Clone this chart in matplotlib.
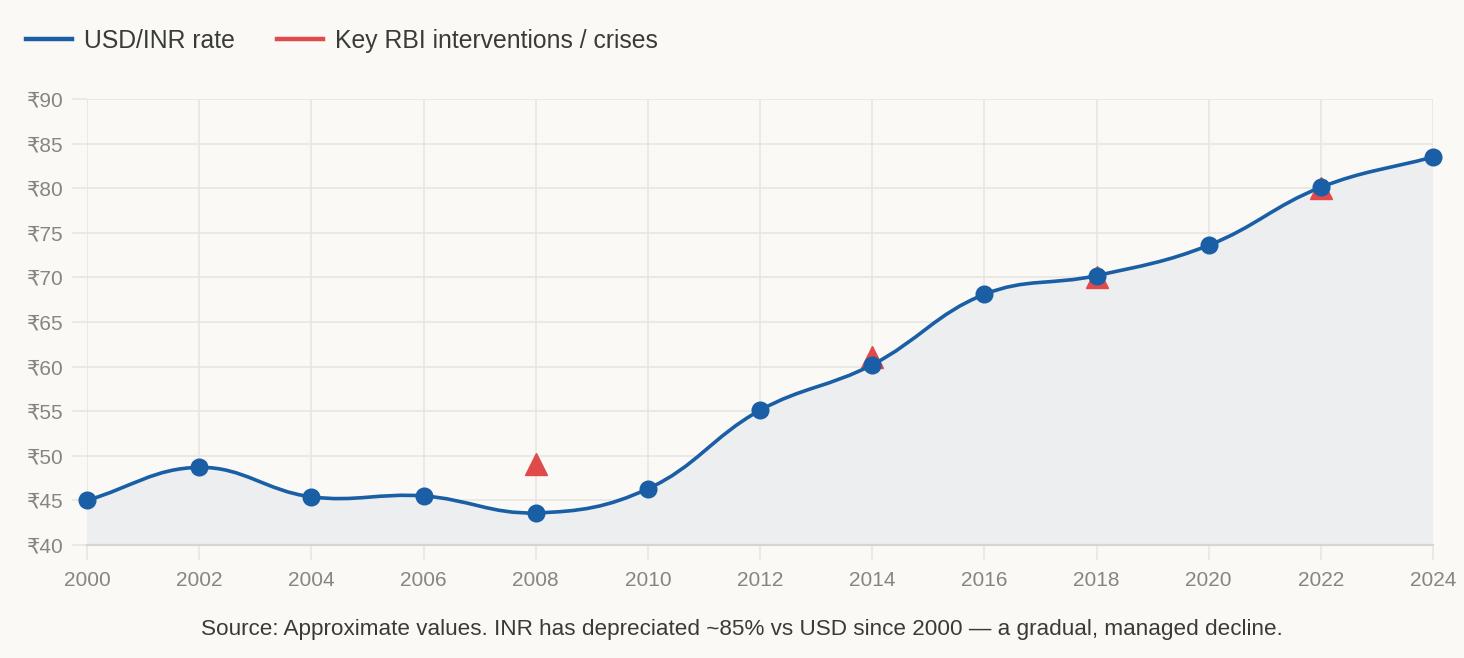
import numpy as np
import matplotlib
matplotlib.use('Agg')
import matplotlib.pyplot as plt
from matplotlib.path import Path
from matplotlib.patches import PathPatch
from matplotlib.lines import Line2D

years = [2000, 2002, 2004, 2006, 2008, 2010, 2012, 2014, 2016, 2018, 2020, 2022, 2024]
usd_inr = [45.0, 48.7, 45.4, 45.5, 43.6, 46.3, 55.1, 60.2, 68.1, 70.2, 73.6, 80.1, 83.5]
event_years = [2008, 2014, 2018, 2022]
event_vals = [49.1, 61.1, 70.0, 80.0]
y_ticks = [40, 45, 50, 55, 60, 65, 70, 75, 80, 85, 90]

BG = '#faf9f5'
BLUE = '#1a5ea6'
RED = '#e04a4a'
GRID = '#e6e5e1'
plt.rcParams['font.family'] = ['Liberation Sans', 'DejaVu Sans']


def spline_path(xs, ys, sx, sy, tension=0.4):
    # chart.js style cardinal spline, distances measured in pixel space
    px = np.array(xs, float) * sx
    py = np.array(ys, float) * sy
    n = len(px)
    cps = []
    for i in range(n):
        p0 = (px[max(i - 1, 0)], py[max(i - 1, 0)])
        p1 = (px[i], py[i])
        p2 = (px[min(i + 1, n - 1)], py[min(i + 1, n - 1)])
        d01 = np.hypot(p1[0] - p0[0], p1[1] - p0[1])
        d12 = np.hypot(p2[0] - p1[0], p2[1] - p1[1])
        tot = d01 + d12
        s01 = d01 / tot if tot else 0
        s12 = d12 / tot if tot else 0
        fa, fb = tension * s01, tension * s12
        c_prev = (p1[0] - fa * (p2[0] - p0[0]), p1[1] - fa * (p2[1] - p0[1]))
        c_next = (p1[0] + fb * (p2[0] - p0[0]), p1[1] + fb * (p2[1] - p0[1]))
        cps.append((c_prev, c_next))
    verts = [(px[0], py[0])]
    codes = [Path.MOVETO]
    for i in range(n - 1):
        verts += [cps[i][1], cps[i + 1][0], (px[i + 1], py[i + 1])]
        codes += [Path.CURVE4] * 3
    verts = [(v[0] / sx, v[1] / sy) for v in verts]
    return verts, codes


fig = plt.figure(figsize=(14.64, 6.58), dpi=100, facecolor=BG)
ax = fig.add_axes([87 / 1464, 1 - 545 / 658, 1346 / 1464, 446 / 658])
ax.set_facecolor(BG)
ax.set_xlim(2000, 2024)
ax.set_ylim(40, 90)

sx = 1346 / 24
sy = 446 / 50
verts, codes = spline_path(years, usd_inr, sx, sy)

fill_verts = verts + [(years[-1], 40), (years[0], 40), verts[0]]
fill_codes = codes + [Path.LINETO, Path.LINETO, Path.CLOSEPOLY]
ax.add_patch(PathPatch(Path(fill_verts, fill_codes), facecolor='#eceef0',
                       edgecolor='none', zorder=1))

ax.plot(event_years, event_vals, linestyle='none', marker='^', markersize=16,
        color=RED, zorder=2, clip_on=False)
ax.add_patch(PathPatch(Path(verts, codes), facecolor='none', edgecolor=BLUE,
                       lw=2.6, zorder=3, capstyle='round'))
ax.plot(years, usd_inr, linestyle='none', marker='o', markersize=12,
        color=BLUE, zorder=4, clip_on=False)

ax.set_xticks(years)
ax.set_xticklabels([str(y) for y in years])
ax.set_yticks(y_ticks)
ax.set_yticklabels(['₹%d' % v for v in y_ticks])
ax.grid(True, color=GRID, lw=1.1, zorder=0)
ax.set_axisbelow(True)
for s in ['top', 'right', 'left']:
    ax.spines[s].set_visible(False)
ax.spines['bottom'].set_color('#d6d5d1')
ax.spines['bottom'].set_linewidth(1.6)
ax.tick_params(axis='both', length=11, width=1.1, color=GRID,
               labelsize=15, labelcolor='#86857f')
ax.tick_params(axis='x', pad=8)
ax.tick_params(axis='y', pad=6)

handles = [Line2D([], [], color=BLUE, lw=3.2),
           Line2D([], [], color=RED, lw=3.2)]
fig.legend(handles, ['USD/INR rate', 'Key RBI interventions / crises'],
           loc='center left', bbox_to_anchor=(26 / 1464, 1 - 41 / 658),
           ncol=2, frameon=False, fontsize=17.8, handlelength=1.85,
           handletextpad=0.5, columnspacing=1.7, labelcolor='#3a3a36',
           borderpad=0, borderaxespad=0)

fig.text(742 / 1464, 1 - 630 / 658,
         'Source: Approximate values. INR has depreciated ~85% vs USD since 2000 \u2014 a gradual, managed decline.',
         ha='center', va='center', fontsize=16.2, color='#3a3a36')

fig.savefig('out.png', dpi=100, facecolor=BG)
